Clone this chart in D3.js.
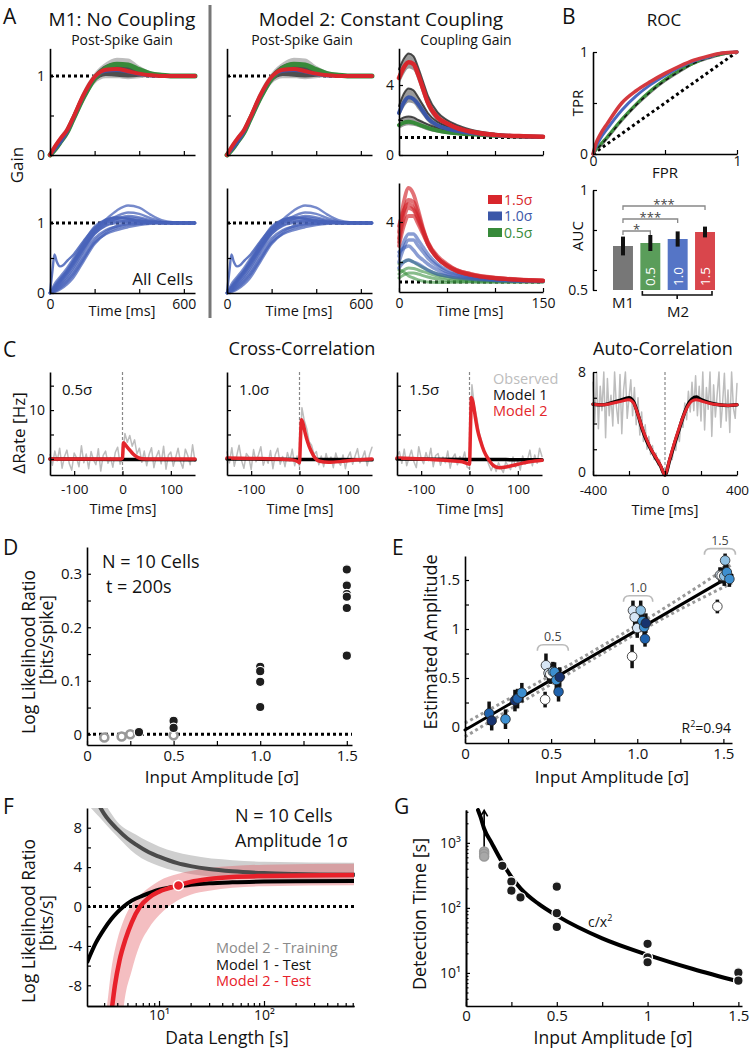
<!DOCTYPE html>
<html><head><meta charset="utf-8">
<script src="https://cdn.jsdelivr.net/npm/d3@7"></script>
<style>body{margin:0;background:#fff} svg{display:block}</style>
</head><body>
<svg id="c" width="750" height="1050"></svg>
<script>
// ================= DATA =================
// Panel A : post-spike gain (time grid in ms)
const tGain = [0,25,50,75,100,150,200,250,300,350,400,450,500,550,650];
const gainGrayLo = [0,0.05,0.13,0.22,0.36,0.66,0.9,0.97,0.97,0.96,0.97,0.99,1.0,1.0,1.0];
const gainGrayHi = [0.06,0.16,0.26,0.36,0.5,0.82,1.04,1.17,1.23,1.22,1.13,1.06,1.02,1.005,1.0];
const gainDarkLo = [0,0.06,0.15,0.24,0.38,0.68,0.92,1.0,0.99,0.98,0.99,1.0,1.0,1.0,1.0];
const gainDarkHi = [0.04,0.14,0.24,0.34,0.48,0.8,1.02,1.14,1.17,1.15,1.09,1.04,1.01,1.0,1.0];
const gainGreen = [0,0.08,0.18,0.28,0.43,0.73,0.97,1.1,1.15,1.14,1.08,1.03,1.01,1.0,1.0];
const gainBlue  = [0,0.08,0.17,0.28,0.43,0.74,0.98,1.06,1.07,1.05,1.02,1.0,1.0,1.0,1.0];
const gainRed   = [0,0.12,0.22,0.31,0.45,0.76,0.99,1.08,1.09,1.06,1.03,1.01,1.0,1.0,1.0];
// All cells (post-spike gain per cell)
const cellGain = [
 [0,0.1,0.2,0.3,0.42,0.68,0.9,1.05,1.18,1.25,1.22,1.12,1.04,1.01,1],
 [0,0.08,0.18,0.28,0.4,0.65,0.88,1.02,1.1,1.15,1.13,1.07,1.02,1,1],
 [0,0.12,0.22,0.32,0.44,0.7,0.92,1.03,1.06,1.08,1.06,1.03,1.01,1,1],
 [0,0.05,0.12,0.2,0.3,0.55,0.78,0.9,0.95,0.98,0.99,1,1,1,1],
 [0,0.04,0.1,0.17,0.26,0.5,0.72,0.84,0.9,0.94,0.97,0.99,1,1,1],
 [0,0.06,0.14,0.23,0.34,0.6,0.84,0.97,1.02,1.03,1.02,1.01,1,1,1],
 [0,0.1,0.2,0.3,0.42,0.66,0.88,1.0,1.04,1.05,1.04,1.02,1.01,1,1],
 [0,0.02,0.06,0.12,0.2,0.45,0.7,0.85,0.93,0.97,0.99,1,1,1,1],
 [0,0.15,0.25,0.35,0.47,0.72,0.95,1.05,1.08,1.06,1.03,1.01,1,1,1],
 [0,0.07,0.16,0.26,0.37,0.62,0.86,1.0,1.06,1.1,1.08,1.04,1.01,1,1],
 [0,0.03,0.08,0.15,0.24,0.48,0.74,0.88,0.96,1.0,1.01,1.01,1,1,1],
 [0,0.09,0.19,0.29,0.4,0.64,0.85,0.96,1.0,1.02,1.02,1.01,1,1,1]
];
const spikeCellT = [0,12,20,30,45,60,80,100,150,200,250,300,350,400,450,500,650];
const spikeCellG = [0,0.35,0.55,0.45,0.38,0.4,0.47,0.53,0.74,0.93,1.04,1.08,1.06,1.03,1.01,1,1];
// Coupling gain (time grid in ms)
const tCoup = [0,5,10,15,20,25,30,40,50,60,75,100,125,150];
const coupRed   = [4.4,5.0,5.3,5.2,4.6,3.8,3.0,2.15,1.8,1.55,1.33,1.15,1.08,1.04];
const coupRedLo = [4.0,4.6,4.95,4.85,4.2,3.4,2.7,1.95,1.65,1.45,1.26,1.1,1.04,1.01];
const coupRedHi = [4.9,5.5,5.8,5.65,5.0,4.2,3.4,2.45,2.0,1.72,1.45,1.22,1.12,1.07];
const coupBlue   = [2.4,3.0,3.3,3.2,2.9,2.5,2.1,1.7,1.5,1.38,1.25,1.13,1.07,1.04];
const coupBlueLo = [2.1,2.7,3.0,2.95,2.6,2.25,1.9,1.55,1.4,1.3,1.2,1.1,1.05,1.02];
const coupBlueHi = [2.8,3.5,3.8,3.7,3.3,2.85,2.4,1.9,1.65,1.5,1.35,1.18,1.1,1.06];
const coupGreen   = [1.7,1.85,1.9,1.85,1.75,1.65,1.55,1.4,1.3,1.24,1.18,1.1,1.06,1.03];
const coupGreenLo = [1.5,1.65,1.7,1.67,1.6,1.5,1.4,1.28,1.2,1.15,1.1,1.05,1.02,1.0];
const coupGreenHi = [2.0,2.15,2.2,2.15,2.0,1.88,1.75,1.55,1.42,1.33,1.25,1.15,1.09,1.05];
const cellCoupRed = [
 [3.5,5.0,5.7,5.4,4.6,3.7,3.0,2.2,1.8,1.55,1.35,1.18,1.1,1.06],
 [3.2,4.5,5.1,5.0,4.4,3.6,2.9,2.2,1.8,1.55,1.35,1.2,1.12,1.07],
 [3.8,4.6,4.9,4.7,4.2,3.6,3.0,2.3,1.9,1.6,1.4,1.2,1.12,1.08],
 [2.8,3.8,4.3,4.3,3.9,3.4,2.9,2.2,1.8,1.55,1.35,1.18,1.1,1.06],
 [3.0,4.2,4.7,4.6,4.1,3.5,2.9,2.2,1.85,1.6,1.4,1.22,1.13,1.08]
];
const cellCoupBlue = [
 [2.3,3.0,3.4,3.4,3.1,2.75,2.4,1.9,1.6,1.45,1.3,1.15,1.08,1.05],
 [2.0,2.7,3.1,3.1,2.8,2.5,2.2,1.8,1.5,1.38,1.25,1.12,1.07,1.05],
 [2.5,2.7,2.8,2.6,2.3,2.1,1.9,1.6,1.4,1.3,1.2,1.1,1.06,1.04],
 [1.7,2.0,2.1,2.0,1.9,1.75,1.6,1.4,1.3,1.22,1.15,1.08,1.05,1.03]
];
const cellCoupGreen = [
 [1.9,2.0,2.1,2.0,1.85,1.72,1.6,1.4,1.28,1.2,1.15,1.08,1.05,1.03],
 [1.4,1.6,1.7,1.68,1.6,1.52,1.45,1.3,1.2,1.14,1.1,1.05,1.03,1.02],
 [1.2,1.35,1.45,1.45,1.4,1.32,1.25,1.15,1.08,1.04,1.02,1.0,1.0,1.0],
 [1.6,1.5,1.3,1.2,1.1,1.05,1.0,0.98,0.98,0.99,1.0,1.0,1.0,1.0]
];
const ampLegend = ["1.5σ","1.0σ","0.5σ"];

// Panel B : ROC and AUC
const fpr = [0,0.02,0.05,0.1,0.2,0.3,0.4,0.5,0.6,0.7,0.8,0.9,1];
const rocRed   = [0,0.1,0.19,0.3,0.5,0.62,0.71,0.79,0.86,0.92,0.96,0.99,1];
const rocBlue  = [0,0.07,0.15,0.25,0.43,0.57,0.68,0.77,0.85,0.91,0.95,0.99,1];
const rocGreen = [0,0.04,0.09,0.17,0.34,0.49,0.62,0.73,0.82,0.89,0.95,0.98,1];
const rocGray  = [0,0.04,0.08,0.16,0.33,0.48,0.61,0.72,0.81,0.89,0.94,0.98,1];
const aucCats = ["M1","0.5","1.0","1.5"];
const aucVals = [0.72,0.735,0.755,0.79];
const aucErr  = [0.047,0.04,0.038,0.027];
const sigStars = ["*","***","***"];
const sigLevels = [0.795,0.855,0.92];

// Panel C : cross-correlation (t = -150..150 ms, step 5) and auto-correlation
const obsCross05 = [0.9,-1.3,1.6,-0.4,2.2,-1.9,0.5,1.8,-1.0,-2.3,1.2,0.2,-1.6,2.7,-0.8,1.0,-2.0,1.5,-0.2,-1.2,2.1,-2.5,0.7,1.6,-0.9,0.3,-1.7,1.3,2.4,-1.1,0.4,
  5.2,3.4,4.8,2.6,3.9,1.0,2.2,-0.7,1.6,-1.4,0.9,2.3,-1.8,0.5,1.7,-1.0,2.6,-2.1,0.8,1.4,-1.5,0.3,2.2,-0.6,-1.9,2.0,0.7,-1.2,2.9,-0.5];
const obsCross10 = [1.4,-0.8,2.3,-1.5,0.6,2.8,-0.3,-1.9,1.1,0.4,-2.2,1.9,-0.6,0.8,2.5,-1.3,0.2,-0.9,1.7,-2.0,0.9,2.2,-1.1,0.5,-1.6,1.3,-0.4,2.0,-1.4,0.6,-1.5,
  10.5,7.8,6.2,3.5,2.8,0.9,1.5,-1.2,0.6,-1.6,1.1,-0.9,0.4,-1.8,1.2,-0.5,-1.3,0.8,-2.0,0.3,1.4,-1.1,0.6,2.1,-0.8,0.2,1.6,-1.4,0.9,2.4];
const obsCross15 = [0.6,1.5,-0.9,2.0,-1.4,0.3,1.8,-0.6,-1.8,2.5,0.1,-1.0,1.3,-0.4,2.2,-1.6,0.7,1.1,-1.3,0.4,-0.8,1.6,-1.9,0.2,1.0,-1.2,0.5,-0.3,1.4,-1.7,-2.0,
  15.2,10.8,8.5,5.4,3.6,1.6,0.2,-1.2,-2.4,-1.0,-2.6,-0.8,-1.9,-2.8,-0.6,-1.5,-2.2,0.4,-1.7,-0.5,-2.3,0.6,-1.1,-0.2,1.8,-1.4,0.8,-0.9,2.2,0.5];
const tCross = d3.range(-150, 151, 5);
const m2Cross05 = [[-150,0],[-100,0],[-50,0],[-3,0],[0,0.2],[2,3.3],[8,2.6],[15,1.8],[22,1.0],[30,0.4],[40,0.05],[60,0],[150,0]];
const m2Cross10 = [[-150,0.2],[-100,0.1],[-50,0],[-15,-0.2],[-3,-0.6],[0,-0.8],[2,4],[4,8.0],[8,7.0],[12,5.2],[17,3.4],[24,1.6],[32,0.2],[42,-0.5],[60,-0.7],[90,-0.5],[120,-0.2],[150,0]];
const m2Cross15 = [[-150,0.2],[-100,0],[-50,-0.3],[-15,-0.6],[-3,-1.0],[0,-1.1],[2,6],[4,12.6],[8,11.2],[12,8.6],[17,5.8],[23,3.6],[30,1.6],[40,-0.2],[50,-1.4],[62,-1.8],[78,-1.6],[100,-1.1],[125,-0.6],[150,-0.3]];
const m1Cross = [[-150,0],[0,-0.1],[150,-0.2]];
const legendC = ["Observed","Model 1","Model 2"];
const obsAuto = [7.2,4.1,8.0,3.6,6.9,5.0,8.0,2.9,7.5,4.6,6.2,3.8,8.0,5.3,4.0,7.8,3.2,6.6,8.0,4.4,6.0,
  7.4,4.6,6.8,3.9,6.0,3.1,4.9,2.6,3.9,2.0,3.0,1.6,2.3,1.2,1.7,0.8,1.2,0.4,0.5,
  0,
  0.6,0.9,1.6,1.2,2.4,1.9,3.3,2.6,4.4,3.7,5.6,4.3,6.5,4.9,7.2,5.0,7.7,4.6,6.9,
  4.2,8.0,3.5,6.8,5.1,8.0,3.0,7.0,4.5,6.3,8.0,3.7,5.6,7.9,4.2,6.6,3.3,8.0,5.2,4.4,7.1];
const tAuto = d3.range(-400, 401, 10);
const m2Auto = [[-400,5.5],[-350,5.45],[-300,5.55],[-250,5.7],[-200,5.85],[-175,5.6],[-150,4.7],[-125,3.6],[-100,2.7],[-75,1.95],[-50,1.35],[-25,0.75],[0,0],[25,1.2],[50,2.4],[75,3.5],[100,4.5],[125,5.3],[150,5.75],[175,5.85],[200,5.75],[250,5.55],[300,5.45],[350,5.4],[400,5.45]];
const m1Auto = [[-400,5.5],[-350,5.45],[-300,5.6],[-250,5.8],[-200,6.0],[-175,5.7],[-150,4.7],[-125,3.5],[-100,2.6],[-75,1.9],[-50,1.3],[-25,0.7],[0,0],[25,1.1],[50,2.3],[75,3.4],[100,4.5],[125,5.4],[150,5.9],[175,6.05],[200,5.85],[250,5.6],[300,5.45],[350,5.4],[400,5.45]];

// Panel D : LLR (bits/spike) vs input amplitude
const dBlackX = [0.3,0.5,0.5,1.0,1.0,1.0,1.0,1.5,1.5,1.5,1.5,1.5,1.5];
const dBlackY = [0.004,0.025,0.012,0.126,0.118,0.098,0.051,0.308,0.278,0.262,0.257,0.236,0.147];
const dGrayX = [0.1,0.2,0.25,0.5];
const dGrayY = [-0.006,-0.004,0.0,-0.002];

// Panel E : estimated vs input amplitude
const eX   = [0.14,0.155,0.235,0.29,0.305,0.33,0.465,0.47,0.485,0.495,0.51,0.52,0.53,0.543,0.55,0.97,0.975,0.985,1.0,1.02,1.03,1.04,1.05,1.045,1.465,1.48,1.49,1.505,1.51,1.52,1.535];
const eY   = [0.14,0.065,0.08,0.27,0.29,0.35,0.28,0.63,0.55,0.54,0.565,0.56,0.48,0.36,0.51,0.72,1.19,1.12,1.01,1.19,1.08,1.02,1.06,0.9,1.23,1.55,1.545,1.54,1.70,1.58,1.51];
const eErr = [0.12,0.1,0.1,0.11,0.1,0.1,0.08,0.12,0.1,0.1,0.1,0.1,0.1,0.1,0.1,0.12,0.1,0.1,0.1,0.1,0.1,0.1,0.1,0.08,0.07,0.08,0.08,0.1,0.07,0.08,0.08];
const eCell = [4,5,3,5,4,3,0,1,1,0,2,3,3,4,5,0,1,1,1,2,3,3,5,4,0,1,0,2,2,3,3];
const eFitX = [0,1.55], eFitY = [-0.03,1.55];
const eCiX = [0,0.4,0.75,1.1,1.55];
const eCiHi = [0.04,0.43,0.78,1.15,1.66];
const eCiLo = [-0.1,0.33,0.7,1.06,1.47];
const eGroups = [[0.42,0.6,"0.5"],[0.92,1.09,"1.0"],[1.39,1.57,"1.5"]];
const eGroupY = [0.84,1.34,1.82];

// Panel F : LLR (bits/s) vs data length
const fTrain = [[2.74,10.1],[3,9.4],[4,7.85],[5,6.9],[6,6.3],[8,5.5],[10,5.06],[15,4.4],[20,4.1],[30,3.8],[50,3.57],[100,3.39],[200,3.3],[720,3.23]];
const fTrainBand = [[2.2,10.1,14],[2.74,9.0,11.3],[3.2,8.2,10.1],[4,7.1,8.6],[6,5.3,7.3],[10,4.1,6.1],[20,3.3,5.2],[50,2.9,4.7],[100,2.75,4.55],[720,2.65,4.45]];
const fM1 = [[2.06,-5.7],[2.5,-3.7],[3,-2.3],[3.5,-1.3],[4,-0.6],[4.6,0],[5.5,0.6],[7,1.1],[10,1.7],[15,2.05],[20,2.2],[30,2.35],[50,2.45],[100,2.53],[200,2.57],[720,2.6]];
const fM2 = [[3.5,-11],[3.8,-8],[4.2,-5.5],[4.8,-3.3],[5.5,-1.6],[6.6,0],[8,0.9],[10,1.5],[15.3,2.13],[20,2.5],[30,2.8],[50,3.0],[100,3.1],[720,3.2]];
const fM2Band = [[3.0,-25,-12],[3.2,-24,-10],[3.5,-22,-6.5],[4.0,-18,-3.4],[4.6,-10.3,-1.4],[5.5,-6.5,0.2],[6.5,-4.0,1.1],[8,-2.2,1.9],[10,-0.9,2.6],[15,0.6,3.3],[20,1.2,3.6],[30,1.6,3.9],[50,1.9,4.1],[100,2.05,4.25],[720,2.15,4.35]];
const fMarker = [15.3,2.13];
const legendF = ["Model 2 - Training","Model 1 - Test","Model 2 - Test"];

// Panel G : detection time vs amplitude
const gX = [0.2,0.25,0.25,0.3,0.5,0.5,0.5,1,1,1,1.5,1.5];
const gY = [443,254,184,145,212,83,51,28,17.4,14.6,10.1,7.6];
const gGrayY = [735,680,615];
const gFitX = [0.066,0.08,0.1,0.141,0.2,0.25,0.3,0.4,0.5,0.75,1.0,1.25,1.5];
const gFitY = [3200,2500,1650,1000,500,300,200,115,76,34,19,11.5,7.4];

// ================= DRAWING =================
const FONT = "'Open Sans', 'DejaVu Sans', sans-serif";
const svg = d3.select("#c").attr("font-family", FONT);
const RED = "#d8262c", BLUE = "#3b57a8", GREEN = "#378a3a";

function txt(x, y, s, o = {}) {
  const t = svg.append("text").attr("x", x).attr("y", y).text(s)
    .attr("font-size", o.size || 14).attr("text-anchor", o.anchor || "start")
    .attr("fill", o.fill || "#111");
  if (o.rot) t.attr("transform", `rotate(${o.rot},${x},${y})`);
  return t;
}
function axis(kind, pos, scale, ticks, labels, fmt, o = {}) {
  const a = (kind === "left" ? d3.axisLeft(scale) : d3.axisBottom(scale))
    .tickValues(ticks).tickSizeInner(-(o.tick || 4)).tickSizeOuter(0).tickPadding(o.pad || 5)
    .tickFormat(d => labels.some(v => Math.abs(v - d) < 1e-9) ? (fmt ? fmt(d) : String(d)) : "");
  const g = svg.append("g")
    .attr("transform", kind === "left" ? `translate(${pos},0)` : `translate(0,${pos})`).call(a);
  g.attr("font-family", FONT).attr("font-size", o.size || 14);
  g.select(".domain").attr("stroke", "#000").attr("stroke-width", 1.6);
  g.selectAll(".tick line").attr("stroke", "#000").attr("stroke-width", 1.2);
  g.selectAll(".tick text").attr("fill", "#111");
  g.selectAll(".tick text").filter(function () { return this.textContent === ""; }).remove();
  return g;
}
function zip(t, v) { return t.map((d, i) => [d, v[i]]); }
function zip3(t, lo, hi) { return t.map((d, i) => [d, lo[i], hi[i]]); }
function path(x, y, pts, o) {
  return (o.parent || svg).append("path").datum(pts)
    .attr("d", d3.line().x(d => x(d[0])).y(d => y(d[1])).curve(o.curve || d3.curveMonotoneX))
    .attr("fill", "none").attr("stroke", o.color).attr("stroke-width", o.w || 2)
    .attr("stroke-opacity", o.op == null ? 1 : o.op).attr("stroke-dasharray", o.dash || null)
    .attr("stroke-linecap", o.cap || "round").attr("stroke-linejoin", "round");
}
function band(x, y, pts, o) {
  return (o.parent || svg).append("path").datum(pts)
    .attr("d", d3.area().x(d => x(d[0])).y0(d => y(d[1])).y1(d => y(d[2])).curve(d3.curveMonotoneX))
    .attr("fill", o.color).attr("fill-opacity", o.op == null ? 1 : o.op).attr("stroke", "none");
}
function clipRect(id, x0, y0, w, h) {
  svg.append("clipPath").attr("id", id).append("rect").attr("x", x0).attr("y", y0).attr("width", w).attr("height", h);
  return svg.append("g").attr("clip-path", `url(#${id})`);
}

// ---------- Panel A ----------
txt(3, 24, "A", { size: 21 });
txt(122, 26, "M1: No Coupling", { size: 19, anchor: "middle" });
txt(122, 45, "Post-Spike Gain", { size: 14, anchor: "middle" });
txt(381, 26, "Model 2: Constant Coupling", { size: 19, anchor: "middle" });
txt(302, 45, "Post-Spike Gain", { size: 14, anchor: "middle" });
txt(466, 45, "Coupling Gain", { size: 14, anchor: "middle" });
txt(23, 165, "Gain", { size: 17, anchor: "middle", rot: -90 });
svg.append("line").attr("x1", 210).attr("x2", 210).attr("y1", 5).attr("y2", 318)
  .attr("stroke", "#777").attr("stroke-width", 3);

[50, 227].forEach((x0, k) => {
  const x = d3.scaleLinear().domain([0, 650]).range([x0, x0 + 145]);
  // top: summary
  const yT = d3.scaleLinear().domain([0, 1.35]).range([155, 48.35]);
  path(x, yT, [[0, 1], [650, 1]], { color: "#000", w: 3, dash: "3,3", cap: "butt" });
  band(x, yT, zip3(tGain, gainGrayLo, gainGrayHi), { color: "#bdbdbd" });
  band(x, yT, zip3(tGain, gainDarkLo, gainDarkHi), { color: "#2a2a2a", op: 0.75 });
  path(x, yT, zip(tGain, gainGreen), { color: GREEN, w: 5 });
  path(x, yT, zip(tGain, gainBlue), { color: BLUE, w: 3 });
  path(x, yT, zip(tGain, gainRed), { color: RED, w: 4 });
  axis("left", x0, yT, [0, 0.5, 1], k === 0 ? [0, 1] : [], null);
  axis("bottom", 155, x, [0, 200, 400, 600], [], null);
  // bottom: all cells
  const yB = d3.scaleLinear().domain([0, 1.5]).range([293, 188]);
  path(x, yB, [[0, 1], [650, 1]], { color: "#000", w: 3, dash: "3,3", cap: "butt" });
  cellGain.forEach(c => path(x, yB, zip(tGain, c), { color: "#4863b9", w: 2.4, op: 0.75 }));
  path(x, yB, zip(spikeCellT, spikeCellG), { color: "#4863b9", w: 2.4, op: 0.85 });
  axis("left", x0, yB, [0, 0.5, 1], k === 0 ? [0, 1] : [], null);
  axis("bottom", 293, x, [0, 200, 400, 600], [0, 600], null, { pad: 6 });
  txt(x0 + 72, 316, "Time [ms]", { size: 14.5, anchor: "middle" });
});
txt(193, 285, "All Cells", { size: 17, anchor: "end" });

// coupling gain
{
  const x = d3.scaleLinear().domain([0, 150]).range([399, 543]);
  const yT = d3.scaleLinear().domain([0, 6.1]).range([155, 48.25]);
  path(x, yT, [[0, 1], [150, 1]], { color: "#000", w: 3, dash: "3,3", cap: "butt" });
  band(x, yT, zip3(tCoup, coupGreenLo, coupGreenHi), { color: "#9a9a9a" });
  band(x, yT, zip3(tCoup, coupBlueLo, coupBlueHi), { color: "#9a9a9a" });
  band(x, yT, zip3(tCoup, coupRedLo, coupRedHi), { color: "#9a9a9a" });
  path(x, yT, zip(tCoup, coupGreenHi), { color: "#222", w: 2, op: 0.8 });
  path(x, yT, zip(tCoup, coupBlueHi), { color: "#222", w: 2, op: 0.8 });
  path(x, yT, zip(tCoup, coupRedHi), { color: "#222", w: 2, op: 0.8 });
  path(x, yT, zip(tCoup, coupGreen), { color: GREEN, w: 4 });
  path(x, yT, zip(tCoup, coupBlue), { color: BLUE, w: 4 });
  path(x, yT, zip(tCoup, coupRed), { color: RED, w: 4.5 });
  axis("left", 399, yT, [0, 2, 4], [0, 4], null);
  axis("bottom", 155, x, [0, 50, 100, 150], [], null);

  const yB = d3.scaleLinear().domain([0.5, 5.95]).range([292, 183]);
  path(x, yB, [[0, 1], [150, 1]], { color: "#000", w: 3, dash: "3,3", cap: "butt" });
  cellCoupGreen.forEach(c => path(x, yB, zip(tCoup, c), { color: "#3a9140", w: 3, op: 0.6 }));
  cellCoupBlue.forEach(c => path(x, yB, zip(tCoup, c), { color: "#3c5bb5", w: 3.5, op: 0.6 }));
  cellCoupRed.forEach(c => path(x, yB, zip(tCoup, c), { color: "#d3262c", w: 3.8, op: 0.65 }));
  axis("left", 399, yB, [2, 4], [4], null);
  axis("bottom", 292, x, [0, 50, 100, 150], [0, 150], null, { pad: 6 });
  txt(470, 316, "Time [ms]", { size: 14.5, anchor: "middle" });
  const legCol = [RED, BLUE, GREEN];
  ampLegend.forEach((s, i) => {
    svg.append("rect").attr("x", 488).attr("y", 195 + i * 16.5).attr("width", 14).attr("height", 9).attr("fill", legCol[i]);
    txt(504, 204.5 + i * 16.5, s, { size: 14, fill: legCol[i] });
  });
}

// ---------- Panel B ----------
txt(562, 24, "B", { size: 21 });
txt(664, 26, "ROC", { size: 17, anchor: "middle" });
{
  const x = d3.scaleLinear().domain([0, 1]).range([593, 737]);
  const y = d3.scaleLinear().domain([0, 1]).range([154, 52]);
  path(x, y, [[0, 0], [1, 1]], { color: "#000", w: 3, dash: "3,3", cap: "butt", curve: d3.curveLinear });
  path(x, y, zip(fpr, rocGray), { color: "#777", w: 3 });
  path(x, y, zip(fpr, rocGreen), { color: "#3d8f3d", w: 3 });
  path(x, y, zip(fpr, rocGray), { color: "#111", w: 1.5, dash: "4,4", cap: "butt" });
  path(x, y, zip(fpr, rocBlue), { color: "#4a68c0", w: 3 });
  path(x, y, zip(fpr, rocRed), { color: "#d4393f", w: 3.5 });
  axis("left", 593, y, [0, 0.5, 1], [0, 1], null);
  axis("bottom", 154, x, [0, 0.5, 1], [0, 1], null, { pad: 2 });
  txt(583, 103, "TPR", { size: 15, anchor: "middle", rot: -90 });
  txt(665, 178, "FPR", { size: 15, anchor: "middle" });

  const yA = d3.scaleLinear().domain([0.5, 1]).range([290, 190]);
  const xb = d3.scaleBand().domain(aucCats).range([613, 715]).paddingInner(0.27).paddingOuter(0);
  const barCol = ["#777777", "#5a9d5a", "#5575c6", "#d9464c"];
  aucCats.forEach((c, i) => {
    svg.append("rect").attr("x", xb(c)).attr("y", yA(aucVals[i])).attr("width", xb.bandwidth())
      .attr("height", yA(0.5) - yA(aucVals[i])).attr("fill", barCol[i]);
    svg.append("line").attr("x1", xb(c) + xb.bandwidth() / 2).attr("x2", xb(c) + xb.bandwidth() / 2)
      .attr("y1", yA(aucVals[i] - aucErr[i])).attr("y2", yA(aucVals[i] + aucErr[i]))
      .attr("stroke", "#111").attr("stroke-width", 4);
    if (i > 0) {
      const cx = xb(c) + xb.bandwidth() / 2 + 5, cy = 286;
      txt(cx, cy, c, { size: 13.5, fill: "#fff", rot: -90 });
    }
  });
  axis("left", 593, yA, [0.5, 0.6, 0.8, 1], [0.5, 1], null);
  // significance brackets
  const c0 = xb("M1") + xb.bandwidth() / 2;
  sigLevels.forEach((v, i) => {
    const cx = xb(aucCats[i + 1]) + xb.bandwidth() / 2, by = yA(v);
    svg.append("path").attr("d", `M${c0},${by + 4}V${by}H${cx}V${by + 4}`)
      .attr("fill", "none").attr("stroke", "#888").attr("stroke-width", 1.3);
    txt((c0 + cx) / 2, by + 3, sigStars[i], { size: 13, anchor: "middle", fill: "#444" });
  });
  // M2 bracket
  const m2a = xb("0.5") + 2, m2b = xb("1.5") + xb.bandwidth() - 3;
  svg.append("path").attr("d", `M${m2a},${291}V${295}H${m2b}V${291}M${(m2a + m2b) / 2},295V299`)
    .attr("fill", "none").attr("stroke", "#111").attr("stroke-width", 1.6);
  txt(c0, 308, "M1", { size: 15, anchor: "middle" });
  txt(678, 317, "M2", { size: 15, anchor: "middle" });
  txt(583, 236, "AUC", { size: 15, anchor: "middle", rot: -90 });
}

// ---------- Panel C ----------
txt(3, 357, "C", { size: 21 });
txt(302, 355, "Cross-Correlation", { size: 18, anchor: "middle" });
txt(663, 355, "Auto-Correlation", { size: 18, anchor: "middle" });
txt(25, 433, "ΔRate [Hz]", { size: 17, anchor: "middle", rot: -90 });
{
  const y = d3.scaleLinear().domain([-3.3, 17.8]).range([475, 372]);
  const sets = [[50, obsCross05, m2Cross05, "0.5σ"], [227, obsCross10, m2Cross10, "1.0σ"], [397, obsCross15, m2Cross15, "1.5σ"]];
  sets.forEach(([x0, obs, m2, lab], k) => {
    const x = d3.scaleLinear().domain([-150, 150]).range([x0, x0 + 145]);
    path(x, y, zip(tCross, obs), { color: "#bdbdbd", w: 1.5, curve: d3.curveLinear });
    path(x, y, [[0, -3.3], [0, 17.8]], { color: "#888", w: 1.2, dash: "3,2", cap: "butt", curve: d3.curveLinear });
    path(x, y, m1Cross, { color: "#000", w: 3.5 });
    path(x, y, m2, { color: "#e3262c", w: 3.5 });
    axis("left", x0, y, [0, 5, 10, 15], k === 0 ? [0, 10] : [], null);
    axis("bottom", 475, x, [-100, 0, 100], [-100, 0, 100], null, { pad: 9, size: 13.5 });
    txt(x0 + 73, 514, "Time [ms]", { size: 14.5, anchor: "middle" });
    txt(x0 + 12, 395, lab, { size: 15 });
  });
  const lc = ["#bdbdbd", "#111", "#e3262c"];
  legendC.forEach((s, i) => txt(493, 384 + i * 16, s, { size: 14.5, fill: lc[i] }));

  const xa = d3.scaleLinear().domain([-400, 400]).range([593, 737]);
  const ya = d3.scaleLinear().domain([0, 8]).range([475, 372]);
  path(xa, ya, zip(tAuto, obsAuto), { color: "#bdbdbd", w: 1.5, curve: d3.curveLinear });
  path(xa, ya, [[0, 0], [0, 8]], { color: "#888", w: 1.2, dash: "3,2", cap: "butt", curve: d3.curveLinear });
  path(xa, ya, m1Auto, { color: "#000", w: 3.5 });
  path(xa, ya, m2Auto, { color: "#e3262c", w: 3 });
  const ayG = axis("left", 593, ya, [0, 2, 4, 6, 8], [0, 8], null, { pad: 7 });
  ayG.selectAll(".tick text").filter(d => d === 0).attr("dy", "0.1em");
  axis("bottom", 475, xa, [-400, -200, 0, 200, 400], [-400, 0, 400], null, { pad: 10, size: 13.5 });
  txt(665, 515, "Time [ms]", { size: 14.5, anchor: "middle" });
}

// ---------- Panel D ----------
txt(3, 555, "D", { size: 21 });
{
  const x = d3.scaleLinear().domain([0, 1.53]).range([87, 352]);
  const y = d3.scaleLinear().domain([-0.02, 0.35]).range([745, 547]);
  path(x, y, [[0, 0], [1.53, 0]], { color: "#000", w: 3, dash: "3,3", cap: "butt", curve: d3.curveLinear });
  dGrayX.forEach((v, i) => svg.append("circle").attr("cx", x(v)).attr("cy", y(dGrayY[i])).attr("r", 4)
    .attr("fill", "#fff").attr("stroke", "#999").attr("stroke-width", 2.6));
  dBlackX.forEach((v, i) => svg.append("circle").attr("cx", x(v)).attr("cy", y(dBlackY[i])).attr("r", 4.7)
    .attr("fill", "#1e1e1e").attr("stroke", "#fff").attr("stroke-width", 1.2));
  axis("left", 87, y, [0, 0.05, 0.1, 0.15, 0.2, 0.25, 0.3], [0, 0.1, 0.2, 0.3], d => d === 0 ? "0" : d.toFixed(1), { size: 15 });
  axis("bottom", 745, x, [0, 0.25, 0.5, 0.75, 1, 1.25, 1.5], [0, 0.5, 1, 1.5], d => d === 0 ? "0" : d.toFixed(1), { size: 15, pad: 5 });
  txt(102, 568, "N = 10 Cells", { size: 18 });
  txt(106, 593, "t  = 200s", { size: 18 });
  txt(35, 652, "Log Likelihood Ratio", { size: 17.5, anchor: "middle", rot: -90 });
  txt(53, 640, "[bits/spike]", { size: 17.5, anchor: "middle", rot: -90 });
  txt(222, 783, "Input Amplitude [σ]", { size: 17, anchor: "middle" });
}

// ---------- Panel E ----------
txt(392, 555, "E", { size: 21 });
{
  const x = d3.scaleLinear().domain([0, 1.55]).range([465, 732]);
  const y = d3.scaleLinear().domain([-0.163, 1.745]).range([743, 556]);
  const blues = ["#ffffff", "#d7e6f5", "#8fc0e3", "#3d8fd0", "#1f62ad", "#17336f"];
  path(x, y, zip(eCiX, eCiHi), { color: "#999", w: 3, dash: "3,3", cap: "butt" });
  path(x, y, zip(eCiX, eCiLo), { color: "#999", w: 3, dash: "3,3", cap: "butt" });
  path(x, y, zip(eFitX, eFitY), { color: "#000", w: 3, curve: d3.curveLinear });
  eX.forEach((v, i) => svg.append("line").attr("x1", x(v)).attr("x2", x(v))
    .attr("y1", y(eY[i] - eErr[i])).attr("y2", y(eY[i] + eErr[i])).attr("stroke", "#111").attr("stroke-width", 3.5));
  eX.forEach((v, i) => svg.append("circle").attr("cx", x(v)).attr("cy", y(eY[i])).attr("r", 4.8)
    .attr("fill", blues[eCell[i]]).attr("stroke", "#222").attr("stroke-width", 0.8));
  eGroups.forEach(([a, b, s], i) => {
    const yy = y(eGroupY[i]), xa = x(a), xb2 = x(b);
    svg.append("path").attr("d", `M${xa},${yy + 6}Q${xa},${yy} ${xa + 6},${yy}H${xb2 - 6}Q${xb2},${yy} ${xb2},${yy + 6}`)
      .attr("fill", "none").attr("stroke", "#bbb").attr("stroke-width", 1.6);
    txt((xa + xb2) / 2, yy - 4, s, { size: 12.5, anchor: "middle", fill: "#444" });
  });
  axis("left", 465, y, [0, 0.25, 0.5, 0.75, 1, 1.25, 1.5], [0, 0.5, 1, 1.5], null, { size: 15 });
  axis("bottom", 743, x, [0, 0.25, 0.5, 0.75, 1, 1.25, 1.5], [0, 0.5, 1, 1.5], d => d === 0 ? "0" : d.toFixed(1), { size: 15, pad: 5 });
  const r2 = svg.append("text").attr("x", 731).attr("y", 733).attr("font-size", 14).attr("text-anchor", "end").attr("fill", "#111");
  r2.append("tspan").text("R");
  r2.append("tspan").attr("font-size", 9).attr("dy", -6).text("2");
  r2.append("tspan").attr("dy", 6).text("=0.94");
  txt(437, 642, "Estimated Amplitude", { size: 18, anchor: "middle", rot: -90 });
  txt(612, 783, "Input Amplitude [σ]", { size: 17, anchor: "middle" });
}

// ---------- Panel F ----------
txt(3, 814, "F", { size: 21 });
{
  const x = d3.scaleLog().domain([2.06, 720]).range([87, 354]);
  const y = d3.scaleLinear().domain([-10.1, 10]).range([1006, 808]);
  const g = clipRect("clipF", 87, 808, 268, 198);
  band(x, y, fTrainBand, { color: "#cfcfcf", parent: g });
  band(x, y, fM2Band, { color: "#e2545c", op: 0.38, parent: g });
  path(x, y, [[2.06, 0], [720, 0]], { color: "#000", w: 3, dash: "3,3", cap: "butt", curve: d3.curveLinear, parent: g });
  path(x, y, fTrain, { color: "#4a4a4a", w: 4, parent: g });
  path(x, y, fM1, { color: "#000", w: 4, parent: g, cap: "butt" });
  path(x, y, fM2, { color: "#e8202a", w: 4.5, parent: g, cap: "butt" });
  svg.append("circle").attr("cx", x(fMarker[0])).attr("cy", y(fMarker[1])).attr("r", 5)
    .attr("fill", "#e8202a").attr("stroke", "#fff").attr("stroke-width", 1.5);
  const minor = [3, 4, 5, 6, 7, 8, 9, 20, 30, 40, 50, 60, 70, 80, 90, 200, 300, 400, 500, 600, 700];
  axis("bottom", 1006, x, minor, [], null, { tick: 3 });
  axis("bottom", 1006, x, [10, 100], [10, 100], d => d === 10 ? "10¹" : "10²", { tick: 5, pad: 4, size: 14 });
  axis("left", 87, y, [-8, -6, -4, -2, 0, 2, 4, 6, 8], [-8, -4, 0, 4, 8], null, { size: 15 });
  txt(235, 822, "N = 10 Cells", { size: 18 });
  txt(235, 847, "Amplitude 1σ", { size: 18 });
  const lc = ["#8a8a8a", "#111", "#e8202a"];
  legendF.forEach((s, i) => txt(216, 953 + i * 16.5, s, { size: 14.5, fill: lc[i] }));
  txt(35, 921, "Log Likelihood Ratio", { size: 17.5, anchor: "middle", rot: -90 });
  txt(53, 923, "[bits/s]", { size: 17.5, anchor: "middle", rot: -90 });
  txt(227, 1044, "Data Length [s]", { size: 17.5, anchor: "middle" });
}

// ---------- Panel G ----------
txt(394, 814, "G", { size: 21 });
{
  const x = d3.scaleLinear().domain([0, 1.52]).range([466, 742]);
  const y = d3.scaleLog().domain([3.1, 3200]).range([1006, 810]);
  const g = clipRect("clipG", 466, 808, 280, 200);
  path(x, y, zip(gFitX, gFitY), { color: "#000", w: 4, parent: g });
  const ax = x(0.1);
  svg.append("path").attr("d", `M${ax},${y(700)}V${y(3150)}M${ax - 3.5},${y(3150) + 6}L${ax},${y(3150)}L${ax + 3.5},${y(3150) + 6}`)
    .attr("fill", "none").attr("stroke", "#000").attr("stroke-width", 1.6);
  gGrayY.forEach(v => svg.append("circle").attr("cx", ax).attr("cy", y(v)).attr("r", 4.5)
    .attr("fill", "#a8a8a8").attr("stroke", "#999").attr("stroke-width", 1.5));
  gX.forEach((v, i) => svg.append("circle").attr("cx", x(v)).attr("cy", y(gY[i])).attr("r", 4.8)
    .attr("fill", "#1e1e1e").attr("stroke", "#fff").attr("stroke-width", 1.4));
  const minor = [4, 5, 6, 7, 8, 9, 20, 30, 40, 50, 60, 70, 80, 90, 200, 300, 400, 500, 600, 700, 800, 900, 2000, 3000];
  axis("left", 466, y, minor, [], null, { tick: 2.5 });
  axis("left", 466, y, [10, 100, 1000], [10, 100, 1000], d => d === 10 ? "10¹" : d === 100 ? "10²" : "10³", { tick: 4, size: 14 });
  axis("bottom", 1006, x, [0, 0.25, 0.5, 0.75, 1, 1.25, 1.5], [0, 0.5, 1, 1.5], null, { size: 15, pad: 4 });
  const cx = txt(588, 927, "c/x", { size: 14 });
  cx.append("tspan").attr("font-size", 9).attr("dy", -6).text("2");
  txt(426, 914, "Detection Time [s]", { size: 18, anchor: "middle", rot: -90 });
  txt(613, 1044, "Input Amplitude [σ]", { size: 17.5, anchor: "middle" });
}
</script>
</body></html>
